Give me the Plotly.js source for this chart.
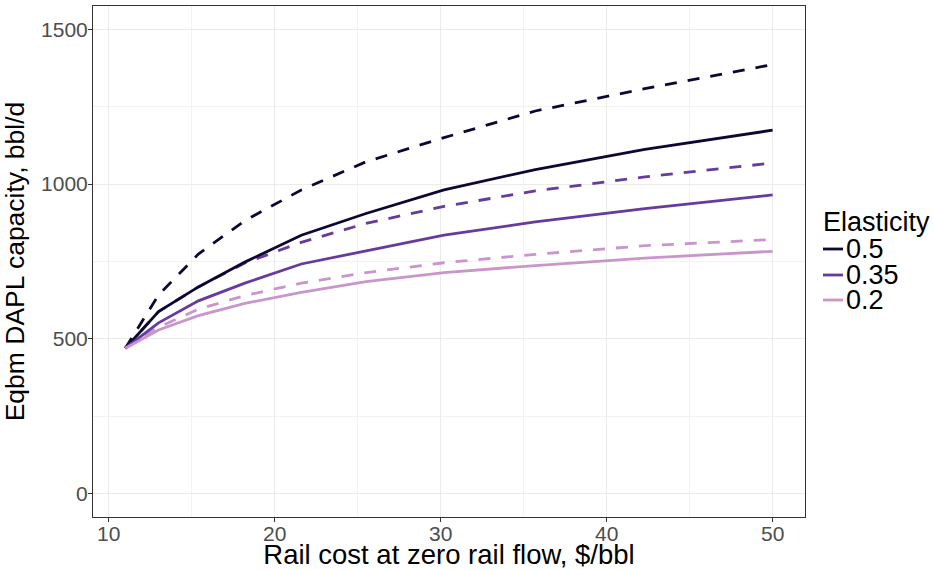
<!DOCTYPE html>
<html>
<head>
<meta charset="utf-8">
<script src="https://cdn.plot.ly/plotly-3.0.1.min.js"></script>
<style>html,body{margin:0;padding:0;background:#fff;}#chart{width:934px;height:570px;}</style>
</head>
<body>
<div id="chart"></div>
<script>
// Rail cost at zero rail flow ($/bbl)
var railCost = [11, 13, 15.4, 18.2, 21.6, 25.5, 30.2, 35.7, 42.3, 50];
// Eqbm DAPL capacity (bbl/d)
var solid05  = [470, 588, 668, 748, 835, 905, 981, 1047, 1112, 1174];
var dashed05 = [470, 642, 774, 882, 981, 1072, 1150, 1236, 1308, 1386];
var solid035  = [470, 552, 623, 680, 742, 785, 835, 878, 921, 965];
var dashed035 = [470, 588, 668, 745, 812, 873, 928, 978, 1023, 1068];
var solid02  = [470, 529, 575, 615, 650, 685, 714, 737, 761, 783];
var dashed02 = [470, 538, 596, 640, 680, 714, 746, 773, 801, 821];
var elasticities = ['0.5', '0.35', '0.2'];
var colors = ['#0d0833', '#673a9e', '#c996cc'];
var xTicks = [10, 20, 30, 40, 50];
var yTicks = [0, 500, 1000, 1500];

var solidSets = [solid05, solid035, solid02];
var dashedSets = [dashed05, dashed035, dashed02];
var traces = [];
for (var i = 0; i < 3; i++) {
  traces.push({
    x: railCost, y: dashedSets[i], type: 'scatter', mode: 'lines',
    line: {color: colors[i], width: 2.8, dash: '12px,11px'},
    showlegend: false, hoverinfo: 'skip'
  });
}
for (var j = 0; j < 3; j++) {
  traces.push({
    x: railCost, y: solidSets[j], type: 'scatter', mode: 'lines',
    line: {color: colors[j], width: 2.8},
    name: elasticities[j], showlegend: false
  });
}

var font = 'Liberation Sans, Arial, Helvetica, sans-serif';
// legend drawn as real text + line keys beside the panel
var plotL = 93, plotW = 712, plotB = 517, plotH = 511;
function px2x(p) { return (p - plotL) / plotW; }
function px2y(p) { return (plotB - p) / plotH; }
var annotations = [{
  xref: 'paper', yref: 'paper', x: px2x(821), y: px2y(222), xanchor: 'left', yanchor: 'middle',
  text: 'Elasticity', showarrow: false, font: {size: 27, color: '#000', family: font}
}];
var shapes = [];
var rowY = [249, 275, 300];
for (var k = 0; k < 3; k++) {
  shapes.push({type: 'line', xref: 'paper', yref: 'paper',
    x0: px2x(823), x1: px2x(843), y0: px2y(rowY[k]), y1: px2y(rowY[k]),
    line: {color: colors[k], width: 2.8}});
  annotations.push({xref: 'paper', yref: 'paper', x: px2x(844), y: px2y(rowY[k]),
    xanchor: 'left', yanchor: 'middle', text: elasticities[k], showarrow: false,
    font: {size: 27, color: '#000', family: font}});
}

var layout = {
  width: 934, height: 570,
  margin: {l: 93, r: 129, t: 6, b: 53},
  paper_bgcolor: '#ffffff', plot_bgcolor: '#ffffff',
  font: {family: font, color: '#000'},
  showlegend: false,
  annotations: annotations,
  shapes: shapes,
  xaxis: {
    range: [9.05, 51.95], tickvals: xTicks, ticktext: xTicks.map(String),
    showgrid: true, gridcolor: '#ebebeb', gridwidth: 1,
    minor: {tickvals: [15, 25, 35, 45], showgrid: true, gridcolor: '#f2f2f2', gridwidth: 0.6, ticks: ''},
    zeroline: false, showline: true, mirror: true, linecolor: '#333333', linewidth: 1,
    ticks: 'outside', ticklen: 4, tickcolor: '#333333', tickwidth: 1,
    ticklabelstandoff: -6,
    tickfont: {size: 21, color: '#4d4d4d', family: font},
    title: {text: 'Rail cost at zero rail flow, $/bbl', font: {size: 27.5, color: '#000', family: font}, standoff: 0}
  },
  yaxis: {
    range: [-75, 1575], tickvals: yTicks, ticktext: yTicks.map(String),
    showgrid: true, gridcolor: '#ebebeb', gridwidth: 1,
    minor: {tickvals: [250, 750, 1250], showgrid: true, gridcolor: '#f2f2f2', gridwidth: 0.6, ticks: ''},
    zeroline: false, showline: true, mirror: true, linecolor: '#333333', linewidth: 1,
    ticks: 'outside', ticklen: 4, tickcolor: '#333333', tickwidth: 1,
    ticklabelstandoff: -4,
    tickfont: {size: 21, color: '#4d4d4d', family: font},
    title: {text: 'Eqbm DAPL capacity, bbl/d', font: {size: 26.5, color: '#000', family: font}, standoff: 8}
  }
};
Plotly.newPlot('chart', traces, layout, {displayModeBar: false, responsive: false});
</script>
</body>
</html>
